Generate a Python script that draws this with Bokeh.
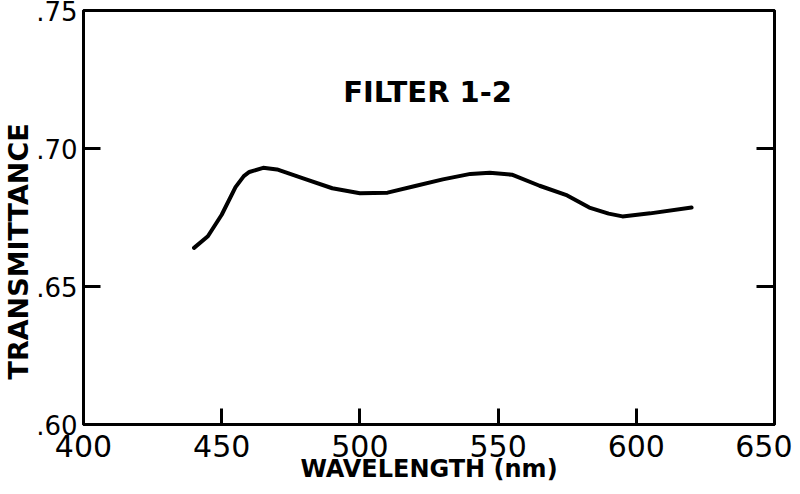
from bokeh.plotting import figure
from bokeh.models import Range1d, LinearAxis, Title, FixedTicker, Label
from bokeh.embed import file_html
from bokeh.resources import INLINE

wavelength = [440, 445, 450, 455, 458, 460, 465, 470, 480, 490, 500, 510, 520,
              530, 540, 547, 555, 565, 575, 583, 590, 595, 605, 620]
transmittance = [0.664, 0.6682, 0.676, 0.686, 0.690, 0.6915, 0.693, 0.6924, 0.689,
                 0.6856, 0.6838, 0.684, 0.6864, 0.6888, 0.6908, 0.6912, 0.6905,
                 0.6865, 0.683, 0.6786, 0.6764, 0.6754, 0.6765, 0.6786]
x_ticks = [400, 450, 500, 550, 600, 650]
y_ticks = [0.60, 0.65, 0.70, 0.75]
y_tick_labels = {0.60: ".60", 0.65: ".65", 0.70: ".70", 0.75: ".75"}
title_text = "FILTER 1-2"
x_label = "WAVELENGTH (nm)"
y_label = "TRANSMITTANCE"

FONT = "DejaVu Sans"

p = figure(width=792, height=486, output_backend="svg", toolbar_location=None,
           x_range=Range1d(400, 650), y_range=Range1d(0.60, 0.75),
           min_border_left=83, min_border_right=18, min_border_top=10,
           min_border_bottom=62)
p.grid.visible = False
p.outline_line_color = "black"
p.outline_line_width = 3
p.background_fill_color = "white"
p.border_fill_color = "white"

p.line(wavelength, transmittance, line_color="black", line_width=4,
       line_join="round", line_cap="round")

for ax in p.xaxis:
    ax.ticker = FixedTicker(ticks=x_ticks)
    ax.major_tick_in = 16
    ax.major_tick_out = 0
    ax.minor_tick_in = 0
    ax.minor_tick_out = 0
    ax.major_tick_line_width = 3
    ax.axis_line_width = 3
    ax.major_label_text_font = FONT
    ax.major_label_text_font_size = "30px"
    ax.major_label_text_color = "black"
    ax.major_label_standoff = 10
    ax.axis_label = x_label
    ax.axis_label_text_font = FONT
    ax.axis_label_text_font_size = "24px"
    ax.axis_label_text_font_style = "bold"
    ax.axis_label_text_color = "black"
    ax.axis_label_standoff = -5

for ax in p.yaxis:
    ax.ticker = FixedTicker(ticks=y_ticks)
    ax.major_label_overrides = y_tick_labels
    ax.major_tick_in = 17
    ax.major_tick_out = 0
    ax.minor_tick_in = 0
    ax.minor_tick_out = 0
    ax.major_tick_line_width = 3
    ax.axis_line_width = 3
    ax.major_label_text_font = FONT
    ax.major_label_text_font_size = "26px"
    ax.major_label_text_color = "black"
    ax.major_label_standoff = 6

right = LinearAxis(ticker=FixedTicker(ticks=y_ticks), major_tick_in=18, major_tick_out=0,
                   minor_tick_in=0, minor_tick_out=0, major_tick_line_width=3,
                   axis_line_width=3, major_label_standoff=0,
                   major_label_overrides={t: "" for t in y_ticks})
p.add_layout(right, "right")

p.add_layout(Title(text=y_label, text_font=FONT, text_font_size="27px",
                   text_font_style="bold", text_color="black", align="left",
                   offset=45, standoff=0), "left")

p.add_layout(Label(x=524.5, y=0.7203, text=title_text, text_font=FONT,
                   text_font_size="29px", text_font_style="bold",
                   text_align="center", text_baseline="middle", text_color="black"))

open("out.html", "w").write(file_html(p, INLINE))
